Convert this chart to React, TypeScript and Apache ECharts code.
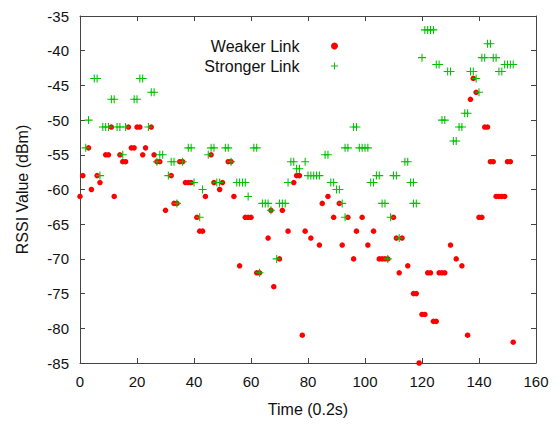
import React, { useEffect, useRef } from "react";
import * as echarts from "echarts";

const weakerTime = [0, 1, 3, 4, 6, 7, 9, 10, 11, 12, 14, 15, 16, 17, 18, 19, 20, 21, 22, 23, 25, 26, 27, 28, 30, 32, 33, 34, 35, 36, 37, 38, 39, 41, 42, 43, 44, 46, 47, 49, 50, 52, 53, 54, 56, 58, 59, 60, 62, 63, 66, 67, 68, 70, 71, 73, 75, 76, 77, 78, 79, 81, 84, 85, 87, 89, 91, 92, 94, 96, 97, 99, 101, 103, 105, 106, 107, 108, 110, 111, 112, 113, 115, 117, 118, 119, 120, 121, 122, 123, 124, 125, 126, 127, 128, 130, 132, 134, 136, 137, 138, 139, 140, 141, 142, 143, 144, 145, 146, 147, 148, 149, 150, 151, 152];
const weakerRssi = [-61, -58, -54, -60, -58, -59, -55, -55, -51, -61, -55, -56, -56, -51, -54, -54, -51, -51, -55, -54, -51, -55, -56, -56, -63, -58, -62, -62, -56, -56, -59, -59, -59, -64, -66, -66, -61, -55, -59, -60, -59, -56, -56, -61, -71, -64, -64, -64, -72, -72, -67, -63, -74, -70, -63, -66, -59, -58, -58, -81, -66, -67, -68, -62, -61, -64, -62, -68, -64, -70, -66, -64, -68, -66, -70, -70, -70, -70, -64, -67, -72, -67, -71, -75, -75, -85, -78, -78, -72, -72, -79, -79, -72, -72, -72, -68, -70, -71, -81, -47, -44, -46, -64, -64, -51, -51, -56, -56, -61, -61, -61, -61, -56, -56, -82];

const strongerTime = [2, 3, 5, 6, 7, 8, 9, 10, 11, 12, 13, 14, 15, 16, 19, 20, 21, 22, 24, 25, 26, 27, 28, 29, 31, 32, 33, 34, 36, 38, 39, 40, 42, 43, 45, 46, 47, 48, 49, 51, 52, 53, 55, 56, 57, 58, 59, 61, 62, 63, 64, 65, 66, 67, 69, 70, 71, 72, 73, 74, 75, 76, 77, 79, 80, 81, 82, 83, 84, 86, 87, 88, 89, 90, 91, 92, 93, 93, 94, 96, 97, 98, 99, 100, 101, 102, 103, 104, 105, 106, 107, 108, 109, 110, 111, 112, 114, 115, 116, 117, 117, 118, 120, 121, 122, 123, 124, 125, 126, 127, 128, 129, 130, 131, 132, 133, 134, 135, 136, 137, 138, 139, 140, 141, 142, 143, 144, 145, 146, 147, 148, 149, 150, 151, 152];
const strongerRssi = [-54, -50, -44, -44, -58, -51, -51, -51, -47, -47, -51, -51, -55, -51, -47, -47, -44, -44, -51, -46, -46, -56, -55, -55, -58, -56, -56, -62, -56, -54, -54, -59, -64, -60, -55, -54, -54, -59, -59, -54, -54, -56, -59, -59, -59, -59, -61, -54, -54, -72, -62, -62, -62, -63, -70, -62, -62, -62, -59, -56, -56, -57, -57, -56, -58, -58, -58, -58, -58, -55, -55, -59, -59, -60, -60, -62, -64, -54, -54, -51, -51, -54, -54, -54, -54, -59, -59, -58, -58, -62, -62, -70, -64, -58, -58, -67, -56, -56, -59, -59, -62, -62, -41, -37, -37, -37, -37, -42, -42, -50, -50, -43, -43, -53, -53, -51, -51, -49, -49, -43, -43, -44, -46, -41, -41, -39, -39, -41, -41, -43, -43, -42, -42, -42, -42];

const xTicks = { min: 0, max: 160, interval: 20 };
const yTicks = { min: -85, max: -35, interval: 5 };

const FONT = "'Liberation Sans', Arial, Helvetica, sans-serif";
const FRAME = "#444";

export default function App() {
  const ref = useRef<HTMLDivElement>(null);
  useEffect(() => {
    if (!ref.current) return;
    const chart = echarts.init(ref.current, undefined, { renderer: "svg" });
    const weakerData = weakerTime.map((t, i) => [t, weakerRssi[i]]);
    const strongerData = strongerTime.map((t, i) => [t, strongerRssi[i]]);
    const axisCommon = (labels: boolean) => ({
      type: "value" as const,
      axisLine: { show: true, onZero: false, lineStyle: { color: FRAME, width: 1 } },
      axisTick: { show: true, inside: true, length: 5, lineStyle: { color: FRAME, width: 1 } },
      axisLabel: { show: labels, fontSize: 15, color: "#111", fontFamily: FONT, margin: 11 },
      splitLine: { show: false },
    });
    chart.setOption({
      animation: false,
      backgroundColor: "#fff",
      grid: { left: 80, right: 20, top: 16, bottom: 61 },
      legend: {
        orient: "vertical",
        right: 218,
        top: 38,
        padding: 0,
        align: "right",
        itemWidth: 60,
        itemHeight: 7,
        itemGap: 4,
        textStyle: { fontSize: 16, lineHeight: 16, color: "#111", fontFamily: FONT },
        data: ["Weaker Link", "Stronger Link"],
      },
      xAxis: [
        {
          ...axisCommon(true),
          ...xTicks,
          position: "bottom",
          name: "Time (0.2s)",
          nameLocation: "middle",
          nameGap: 38,
          nameTextStyle: { fontSize: 16, color: "#111", fontFamily: FONT },
        },
        { ...axisCommon(false), ...xTicks, position: "top" },
      ],
      yAxis: [
        {
          ...axisCommon(true),
          ...yTicks,
          position: "left",
          name: "RSSI Value (dBm)",
          nameLocation: "middle",
          nameRotate: 90,
          nameGap: 50,
          nameTextStyle: { fontSize: 16, color: "#111", fontFamily: FONT },
        },
        { ...axisCommon(false), ...yTicks, position: "right" },
      ],
      series: [
        {
          name: "Weaker Link",
          type: "scatter",
          xAxisIndex: 0,
          yAxisIndex: 0,
          symbol: "circle",
          symbolSize: 5.5,
          itemStyle: { color: "#ff0000", opacity: 1 },
          data: weakerData,
        },
        {
          name: "Stronger Link",
          type: "scatter",
          xAxisIndex: 0,
          yAxisIndex: 0,
          symbol: "path://M0,2.6H2.6V0H3.4V2.6H6V3.4H3.4V6H2.6V3.4H0Z",
          symbolSize: 8,
          itemStyle: { color: "#00c000", opacity: 1 },
          data: strongerData,
        },
      ],
    });
    return () => chart.dispose();
  }, []);
  return (
    <div
      ref={ref}
      style={{ position: "absolute", left: 0, top: 0, width: 556, height: 424, background: "#fff" }}
    />
  );
}
